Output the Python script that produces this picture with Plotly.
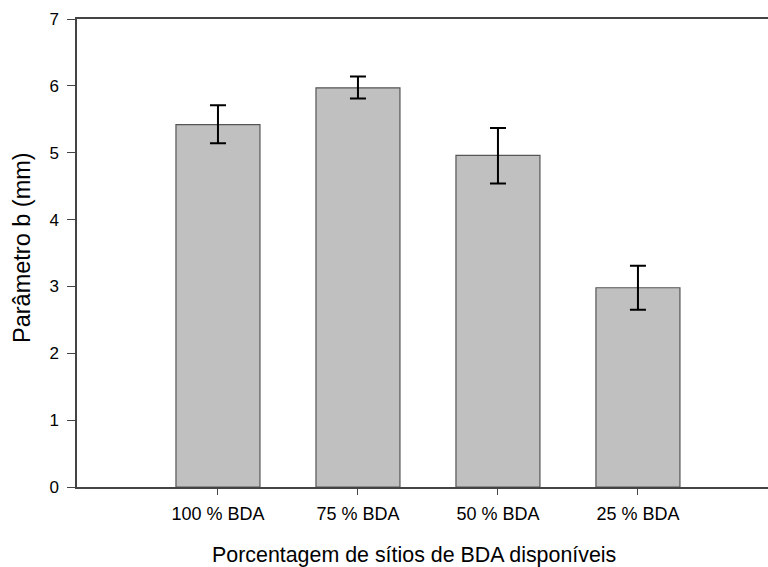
import plotly.graph_objects as go

categories = ["100 % BDA", "75 % BDA", "50 % BDA", "25 % BDA"]
values = [5.42, 5.97, 4.96, 2.98]
err_plus = [0.29, 0.17, 0.41, 0.33]
err_minus = [0.28, 0.16, 0.42, 0.33]
y_ticks = [0, 1, 2, 3, 4, 5, 6, 7]

W, H = 768, 567
# on-screen plot box: left 77, top 19, bottom 487, right 768
l, t, r, b = 77, 19, 0, H - 487
pw, ph = W - l - r, H - t - b

fig = go.Figure()
fig.add_trace(go.Bar(
    x=list(range(len(categories))), y=values, width=0.6,
    marker=dict(color="#c0c0c0", line=dict(color="#555555", width=1.2)),
    error_y=dict(type="data", array=err_plus, arrayminus=err_minus,
                 color="black", thickness=2, width=8),
))

font = "Liberation Sans, Arial, sans-serif"
fig.update_layout(
    width=W, height=H,
    margin=dict(l=l, r=r, t=t, b=b),
    paper_bgcolor="white", plot_bgcolor="white",
    showlegend=False,
    font=dict(family=font, color="black"),
    xaxis=dict(range=[-1.007, 3.929], tickvals=list(range(len(categories))),
               ticktext=categories, showgrid=False, zeroline=False,
               showline=True, linecolor="#444444", linewidth=1.5, mirror=True,
               ticks="outside", ticklen=6, tickcolor="#444444",
               ticklabelstandoff=4,
               tickfont=dict(size=18, family=font), automargin=False),
    yaxis=dict(range=[0, 7], tickvals=y_ticks, showgrid=False, zeroline=False,
               showline=True, linecolor="#444444", linewidth=1.5,
               ticks="outside", ticklen=8, tickcolor="#444444",
               ticklabelstandoff=5,
               tickfont=dict(size=17, family=font), automargin=False),
)


def px_x(sx):
    return (sx - l) / pw


def px_y(sy):
    return (H - sy - b) / ph


fig.add_annotation(text="Porcentagem de sítios de BDA disponíveis",
                   x=px_x(414), y=px_y(555), xref="paper", yref="paper",
                   xanchor="center", yanchor="middle", showarrow=False,
                   font=dict(size=21.4, family=font))
fig.add_annotation(text="Parâmetro b (mm)", textangle=-90,
                   x=px_x(22), y=px_y(248), xref="paper", yref="paper",
                   xanchor="center", yanchor="middle", showarrow=False,
                   font=dict(size=23.5, family=font))
fig.write_html("out.html", config={"displayModeBar": False},
               post_script="document.body.style.margin='0';"
                           "document.body.style.overflow='hidden';")
